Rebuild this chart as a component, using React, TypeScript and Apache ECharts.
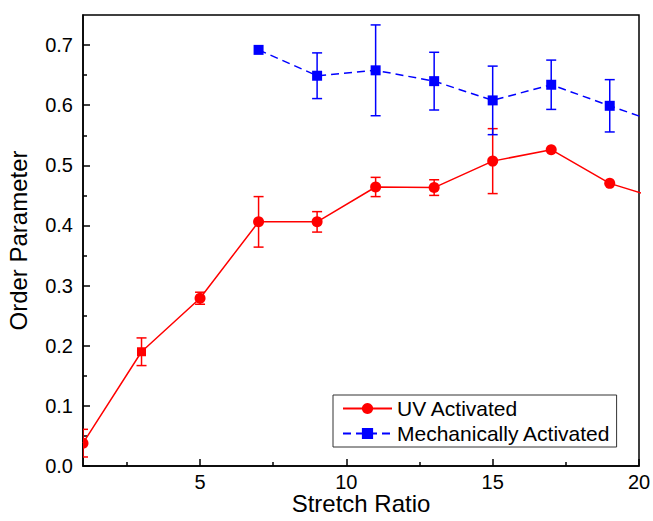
import React, { useEffect, useRef } from "react";
import * as echarts from "echarts";

const uvX = [1, 3, 5, 7, 9, 11, 13, 15, 17, 19, 21];
const uvValues = [0.038, 0.19, 0.279, 0.406, 0.406, 0.464, 0.463, 0.507, 0.526, 0.47, 0.44];
const uvErr = [0.023, 0.023, 0.01, 0.042, 0.017, 0.016, 0.013, 0.054, 0, 0, 0];
const uvSymbols = ["circle", "rect", "circle", "circle", "circle", "circle", "circle", "circle", "circle", "circle", "circle"];

const mechX = [7, 9, 11, 13, 15, 17, 19, 21];
const mechValues = [0.692, 0.649, 0.658, 0.64, 0.608, 0.634, 0.599, 0.565];
const mechErr = [0, 0.038, 0.0755, 0.048, 0.057, 0.041, 0.0435, 0];

const xMajorTicks = [5, 10, 15, 20];
const xMinorTicks = [2.5, 7.5, 12.5, 17.5];
const yMajorTicks = [0, 0.1, 0.2, 0.3, 0.4, 0.5, 0.6, 0.7];
const yMinorTicks = [0.05, 0.15, 0.25, 0.35, 0.45, 0.55, 0.65];

const FONT = "'Liberation Sans', Arial, sans-serif";
const RED = "#ff0000";
const BLUE = "#0000ff";
const X_MIN = 1;

function errData(xs: number[], ys: number[], es: number[]) {
  const out: number[][] = [];
  xs.forEach((x, i) => {
    if (es[i] > 0) out.push([x, ys[i] - es[i], ys[i] + es[i]]);
  });
  return out;
}

function errRender(color: string) {
  return (params: any, api: any) => {
    const x = api.value(0);
    const lo = api.value(1);
    const hi = api.value(2);
    const top = api.coord([x, hi]);
    const bot = api.coord([x, lo]);
    const hw = 5;
    const style = { stroke: color, lineWidth: 1.5 };
    return {
      type: "group",
      children: [
        { type: "line", shape: { x1: top[0], y1: top[1], x2: bot[0], y2: bot[1] }, style },
        { type: "line", shape: { x1: top[0] - hw, y1: top[1], x2: top[0] + hw, y2: top[1] }, style },
        { type: "line", shape: { x1: bot[0] - hw, y1: bot[1], x2: bot[0] + hw, y2: bot[1] }, style },
      ],
    };
  };
}

export default function App() {
  const ref = useRef<HTMLDivElement>(null);
  useEffect(() => {
    if (!ref.current) return;
    const chart = echarts.init(ref.current, null, { renderer: "svg" });
    const axisCommon = {
      type: "value",
      axisLine: { show: true, lineStyle: { color: "#000", width: 1.5 } },
      splitLine: { show: false },
    };
    // points sitting on the left edge are drawn by a clipped custom series
    const edgeUV = uvX.map((x, i) => [x, uvValues[i]]).filter((p) => p[0] <= X_MIN);
    chart.setOption({
      animation: false,
      backgroundColor: "#fff",
      textStyle: { fontFamily: FONT },
      grid: {
        left: 83,
        right: 14,
        top: 15,
        bottom: 55,
        show: true,
        borderColor: "#000",
        borderWidth: 1.5,
        containLabel: false,
        outerBoundsMode: "none",
      },
      legend: {
        left: 333,
        top: 395,
        orient: "vertical",
        data: ["UV Activated", "Mechanically Activated"],
        itemWidth: 49,
        itemHeight: 14,
        itemGap: 4,
        padding: [3, 6, 3, 9],
        borderColor: "#333",
        borderWidth: 1,
        borderRadius: 0,
        textStyle: { fontSize: 21, color: "#000", fontFamily: FONT, lineHeight: 21 },
      },
      xAxis: [
        {
          ...axisCommon,
          min: X_MIN,
          max: 20,
          position: "bottom",
          name: "Stretch Ratio",
          nameLocation: "middle",
          nameGap: 26,
          nameMoveOverlap: false,
          nameTextStyle: { fontSize: 24, color: "#000", fontFamily: FONT, lineHeight: 22 },
          axisTick: { show: true, inside: true, length: 7, customValues: xMajorTicks, lineStyle: { color: "#000", width: 1.5 } },
          axisLabel: {
            show: true,
            customValues: xMajorTicks,
            fontSize: 20,
            lineHeight: 16,
            color: "#000",
            margin: 8,
            fontFamily: FONT,
          },
        },
        {
          ...axisCommon,
          min: X_MIN,
          max: 20,
          position: "bottom",
          axisLine: { show: false },
          axisTick: { show: true, inside: true, length: 4, customValues: xMinorTicks, lineStyle: { color: "#000", width: 1.5 } },
          axisLabel: { show: false },
        },
      ],
      yAxis: [
        {
          ...axisCommon,
          min: 0,
          max: 0.75,
          position: "left",
          name: "Order Parameter",
          nameLocation: "middle",
          nameRotate: 90,
          nameGap: 53,
          nameMoveOverlap: false,
          nameTextStyle: { fontSize: 24, color: "#000", fontFamily: FONT },
          axisTick: { show: true, inside: true, length: 7, customValues: yMajorTicks, lineStyle: { color: "#000", width: 1.5 } },
          axisLabel: {
            show: true,
            customValues: yMajorTicks,
            fontSize: 20,
            color: "#000",
            margin: 10,
            fontFamily: FONT,
            formatter: (v: number) => v.toFixed(1),
          },
        },
        {
          ...axisCommon,
          min: 0,
          max: 0.75,
          position: "left",
          axisLine: { show: false },
          axisTick: { show: true, inside: true, length: 4, customValues: yMinorTicks, lineStyle: { color: "#000", width: 1.5 } },
          axisLabel: { show: false },
        },
      ],
      series: [
        {
          name: "uvErr",
          type: "custom",
          xAxisIndex: 0,
          yAxisIndex: 0,
          clip: true,
          renderItem: errRender(RED),
          encode: { x: 0, y: [1, 2] },
          data: errData(uvX, uvValues, uvErr),
          z: 2,
        },
        {
          name: "mechErr",
          type: "custom",
          xAxisIndex: 0,
          yAxisIndex: 0,
          clip: true,
          renderItem: errRender(BLUE),
          encode: { x: 0, y: [1, 2] },
          data: errData(mechX, mechValues, mechErr),
          z: 2,
        },
        {
          name: "uvEdge",
          type: "custom",
          xAxisIndex: 0,
          yAxisIndex: 0,
          clip: true,
          renderItem: (params: any, api: any) => {
            const c = api.coord([api.value(0), api.value(1)]);
            return { type: "circle", shape: { cx: c[0], cy: c[1], r: 5.5 }, style: { fill: RED } };
          },
          encode: { x: 0, y: 1 },
          data: edgeUV,
          z: 4,
        },
        {
          name: "UV Activated",
          type: "line",
          xAxisIndex: 0,
          yAxisIndex: 0,
          clip: true,
          symbol: "circle",
          symbolSize: 11,
          color: RED,
          lineStyle: { color: RED, width: 1.5 },
          itemStyle: { color: RED },
          data: uvX.map((x, i) => ({
            value: [x, uvValues[i]],
            symbol: x <= X_MIN ? "none" : uvSymbols[i],
            symbolSize: uvSymbols[i] === "rect" ? 9 : 11,
          })),
          z: 3,
        },
        {
          name: "Mechanically Activated",
          type: "line",
          xAxisIndex: 0,
          yAxisIndex: 0,
          clip: true,
          symbol: "rect",
          symbolSize: 10,
          color: BLUE,
          lineStyle: { color: BLUE, width: 1.5, type: [8, 5] },
          itemStyle: { color: BLUE },
          data: mechX.map((x, i) => [x, mechValues[i]]),
          z: 3,
        },
      ],
    });
    return () => chart.dispose();
  }, []);
  return (
    <div
      ref={ref}
      style={{ position: "fixed", left: 0, top: 0, width: 653, height: 521, background: "#fff" }}
    />
  );
}
